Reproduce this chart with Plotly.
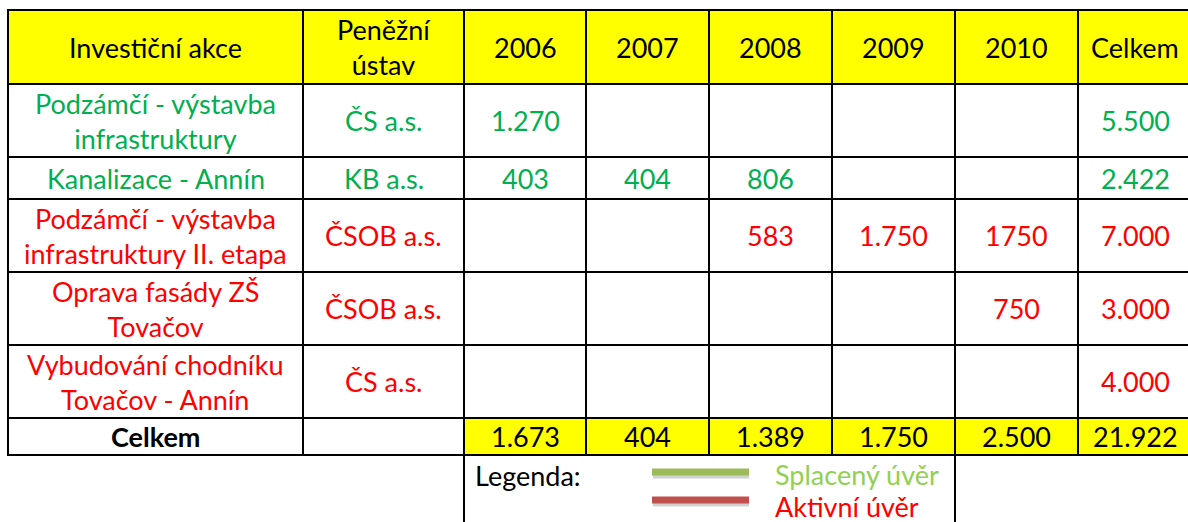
import plotly.graph_objects as go

# ---- data ----
header_cols = ["Investiční akce", "Peněžní<br>ústav", "2006", "2007", "2008", "2009", "2010", "Celkem"]
akce = ["Podzámčí - výstavba<br>infrastruktury",
        "Kanalizace - Annín",
        "Podzámčí - výstavba<br>infrastruktury II. etapa",
        "Oprava fasády ZŠ<br>Tovačov",
        "Vybudování chodníku<br>Tovačov - Annín"]
ustav = ["ČS a.s.", "KB a.s.", "ČSOB a.s.", "ČSOB a.s.", "ČS a.s."]
v2006 = ["1.270", "403", "", "", ""]
v2007 = ["", "404", "", "", ""]
v2008 = ["", "806", "583", "", ""]
v2009 = ["", "", "1.750", "", ""]
v2010 = ["", "", "1750", "750", ""]
celkem = ["5.500", "2.422", "7.000", "3.000", "4.000"]
stav = ["splacený", "splacený", "aktivní", "aktivní", "aktivní"]
total_label = "Celkem"
totals = ["1.673", "404", "1.389", "1.750", "2.500", "21.922"]
legend_title = "Legenda:"
legend_items = ["Splacený úvěr", "Aktivní úvěr"]

# ---- styles / geometry ----
W, H = 1188, 522
FONT = "Lato"
FS = 27
col_edges = [8, 303, 464, 586, 709, 832, 955, 1078, 1192]
row_edges = [10, 84, 157, 199, 272, 345, 418, 455]
YELLOW = "#FFFF00"
GREEN_TXT = "#00B050"
RED_TXT = "#FF0000"
text_color = {"splacený": GREEN_TXT, "aktivní": RED_TXT}
LINE = dict(color="black", width=2)

shapes = []
ann = []

def cx(i):
    return (col_edges[i] + col_edges[i + 1]) / 2

def cy(j):
    return (row_edges[j] + row_edges[j + 1]) / 2

def add_text(x, y, t, color="black", bold=False, xanchor="center", size=FS):
    ann.append(dict(x=x, y=y, xref="x", yref="y", text=(f"<b>{t}</b>" if bold else t),
                    showarrow=False, xanchor=xanchor, yanchor="middle", align="center",
                    font=dict(family=FONT, size=size, color=color)))

# yellow fills
shapes.append(dict(type="rect", x0=col_edges[0], x1=col_edges[-1], y0=row_edges[0], y1=row_edges[1],
                   fillcolor=YELLOW, line=dict(width=0), layer="below"))
shapes.append(dict(type="rect", x0=col_edges[2], x1=col_edges[-1], y0=row_edges[-2], y1=row_edges[-1],
                   fillcolor=YELLOW, line=dict(width=0), layer="below"))

# grid lines
for y in row_edges:
    shapes.append(dict(type="line", x0=col_edges[0] - 1, x1=col_edges[-1], y0=y, y1=y, line=LINE))
for i, x in enumerate(col_edges):
    y1 = H + 5 if i in (2, 6) else row_edges[-1]
    shapes.append(dict(type="line", x0=x, x1=x, y0=row_edges[0] - 1, y1=y1, line=LINE))

# header
for i, h in enumerate(header_cols):
    add_text(cx(i), cy(0), h)

# body
cols = [v2006, v2007, v2008, v2009, v2010, celkem]
for r in range(len(akce)):
    c = text_color[stav[r]]
    add_text(cx(0), cy(r + 1), akce[r], c)
    add_text(cx(1), cy(r + 1), ustav[r], c)
    for k, col in enumerate(cols):
        if col[r]:
            add_text(cx(k + 2), cy(r + 1), col[r], c)

# totals row
tr = len(row_edges) - 2
add_text(cx(0), cy(tr), total_label, bold=True)
for k, t in enumerate(totals):
    add_text(cx(k + 2), cy(tr), t)

# legend
add_text(473, 475, legend_title, xanchor="left")
leg_cols = [("#9BBB59", "#92D050", 472, 474), ("#C0504D", RED_TXT, 500, 506)]
for (lc, tc, ly, ty), label in zip(leg_cols, legend_items):
    shapes.append(dict(type="line", x0=653, x1=749, y0=ly + 4, y1=ly + 4,
                       line=dict(color="rgba(0,0,0,0.18)", width=5)))
    shapes.append(dict(type="line", x0=652, x1=749, y0=ly, y1=ly, line=dict(color=lc, width=7)))
    add_text(773, ty, label, tc, xanchor="left")

fig = go.Figure()
fig.add_trace(go.Scatter(x=[0, W], y=[0, H], mode="markers", marker=dict(opacity=0), hoverinfo="skip",
                         showlegend=False))
fig.update_layout(
    width=W, height=H, margin=dict(l=0, r=0, t=0, b=0),
    paper_bgcolor="white", plot_bgcolor="white",
    xaxis=dict(range=[0, W], visible=False, fixedrange=True),
    yaxis=dict(range=[H, 0], visible=False, fixedrange=True),
    shapes=shapes, annotations=ann, showlegend=False,
)
fig.write_html("out.html", config={"displayModeBar": False},
               post_script="document.body.style.margin='0';document.body.style.overflow='hidden';")
